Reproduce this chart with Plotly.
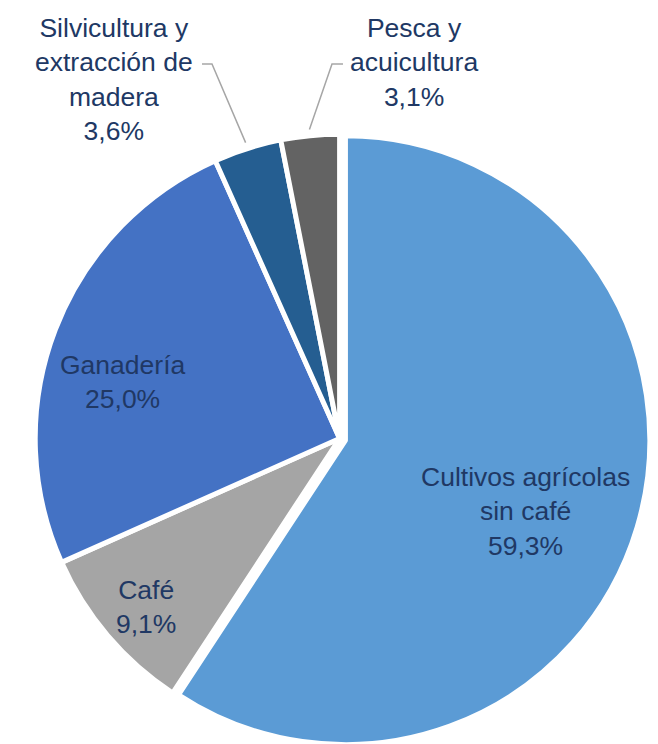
import math
import plotly.graph_objects as go

sectores = ["Cultivos agrícolas<br>sin café", "Café", "Ganadería",
            "Silvicultura y<br>extracción de<br>madera", "Pesca y<br>acuicultura"]
participacion = [59.3, 9.1, 25.0, 3.6, 3.1]
colores = ["#5B9BD5", "#A5A5A5", "#4472C4", "#255E91", "#636363"]
separacion = [0.02, 0, 0, 0, 0]

W, H = 658, 744
dom_x = [0.0321, 0.9758]
dom_y = [0.004, 0.8387]

# centros de las etiquetas (px) y codo de la línea guía (px)
etiquetas_px = [(517, 504), (138, 599), (114, 374), (106, 71), (406, 54)]
guias_px = [None, None, None, ((194, 56), (204, 56)), ((335, 56), (324, 56))]

fig = go.Figure(go.Pie(
    labels=sectores,
    values=participacion,
    sort=False,
    direction="clockwise",
    rotation=0,
    pull=separacion,
    marker=dict(colors=colores, line=dict(color="white", width=5)),
    textinfo="none",
    showlegend=False,
    hoverinfo="label+value",
    domain=dict(x=dom_x, y=dom_y),
))

# geometría del pie tal como la calcula plotly
box_w = W * (dom_x[1] - dom_x[0])
box_h = H * (dom_y[1] - dom_y[0])
r = min(box_w, box_h) / 2 / (1 + max(separacion))
cx = W * (dom_x[0] + dom_x[1]) / 2
cy = H * (1 - dom_y[0]) - box_h / 2

def px_a_papel(x, y):
    return x / W, 1 - y / H

total = sum(participacion)
acum = 0
anotaciones = []
formas = []
for nombre, valor, pos, guia in zip(sectores, participacion, etiquetas_px, guias_px):
    medio = (acum + valor / 2) / total * 2 * math.pi
    acum += valor
    px, py = px_a_papel(*pos)
    anotaciones.append(dict(
        x=px, y=py, xref="paper", yref="paper",
        text=f"{nombre}<br>{valor:.1f}%".replace(".", ","),
        showarrow=False, xanchor="center", yanchor="middle",
        font=dict(family="Liberation Sans, Arial", size=26.5, color="#203864"),
    ))
    if guia:
        ex = cx + 1.02 * r * math.sin(medio)
        ey = cy - 1.02 * r * math.cos(medio)
        puntos = [px_a_papel(*guia[0]), px_a_papel(*guia[1]), px_a_papel(ex, ey)]
        path = "M " + " L ".join(f"{a:.4f},{b:.4f}" for a, b in puntos)
        formas.append(dict(type="path", path=path, xref="paper", yref="paper",
                           line=dict(color="#A6A6A6", width=1.5)))

fig.update_layout(
    width=W,
    height=H,
    margin=dict(l=0, r=0, t=0, b=0),
    paper_bgcolor="white",
    plot_bgcolor="white",
    annotations=anotaciones,
    shapes=formas,
)

fig.write_html("out.html")
